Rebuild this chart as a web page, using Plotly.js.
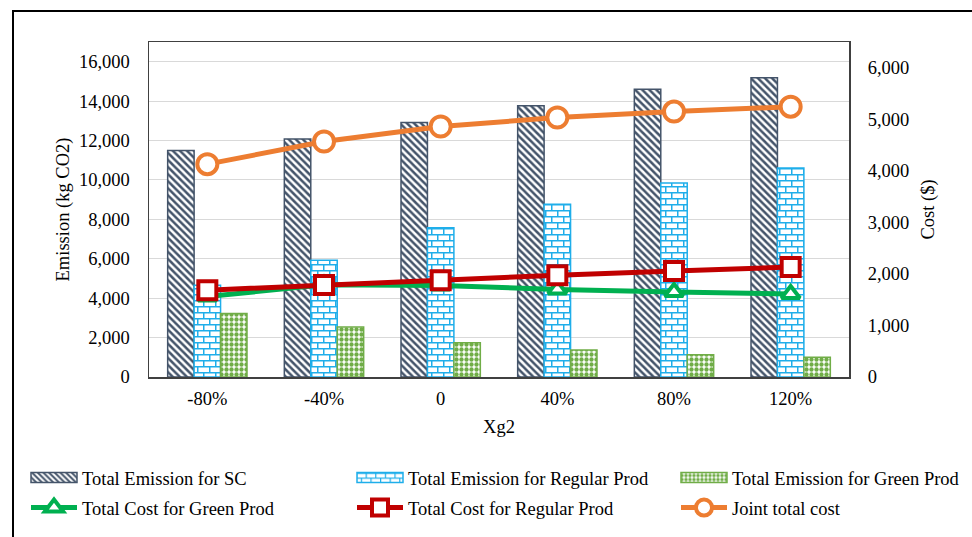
<!DOCTYPE html>
<html>
<head>
<meta charset="utf-8">
<script src="https://cdn.plot.ly/plotly-3.0.1.min.js"></script>
<style>
html,body{margin:0;padding:0;background:#fff;overflow:hidden;}
#wrap{position:relative;width:972px;height:537px;}
#chart{width:972px;height:537px;}
#frame{position:absolute;left:12px;top:10px;width:980px;height:560px;border:2px solid #000;pointer-events:none;box-sizing:border-box;}
</style>
</head>
<body>
<div id="wrap">
<div id="chart"></div>
<div id="frame"></div>
</div>
<script>
// ---- data ----
const categories = ['-80%', '-40%', '0', '40%', '80%', '120%'];
const emissionSC = [11500, 12080, 12920, 13770, 14600, 15190];
const emissionRegular = [4650, 5930, 7570, 8770, 9850, 10600];
const emissionGreen = [3220, 2540, 1740, 1370, 1130, 1000];
const costGreen = [1560, 1790, 1775, 1700, 1650, 1610];
const costRegular = [1685, 1785, 1875, 1975, 2055, 2135];
const costJoint = [4130, 4570, 4860, 5035, 5150, 5245];

const fontFam = 'Liberation Serif';
const FS = 18.5;

const traces = [
  {
    type: 'bar', name: 'Total Emission for SC', x: categories, y: emissionSC,
    legend: 'legend', legendgroup: 'a1',
    marker: {color: '#ffffff', line: {color: '#44546A', width: 1.5},
      pattern: {shape: '\\', fgcolor: '#44546A', bgcolor: '#ffffff', size: 5, solidity: 0.5}}
  },
  {
    type: 'bar', name: 'Total Emission for Regular Prod', x: categories, y: emissionRegular,
    legend: 'legend2', legendgroup: 'b1',
    marker: {color: '#ffffff', line: {color: '#1FAEEA', width: 1.5},
      pattern: {shape: '+', fgcolor: '#1FAEEA', bgcolor: '#ffffff', size: 8, solidity: 0.25}}
  },
  {
    type: 'bar', name: 'Total Emission for Green Prod', x: categories, y: emissionGreen,
    legend: 'legend3', legendgroup: 'c1',
    marker: {color: '#ffffff', line: {color: '#70AD47', width: 1.5},
      pattern: {shape: '.', fgcolor: '#70AD47', bgcolor: '#ffffff', size: 5, solidity: 0.6}}
  },
  {
    type: 'scatter', mode: 'lines+markers', name: 'Total Cost for Green Prod', x: categories, y: costGreen,
    yaxis: 'y2', legend: 'legend', legendgroup: 'a2', line: {color: '#00B050', width: 5},
    marker: {symbol: 'triangle-up', size: 16, color: '#ffffff', line: {color: '#00B050', width: 4}}
  },
  {
    type: 'scatter', mode: 'lines+markers', name: 'Total Cost for Regular Prod', x: categories, y: costRegular,
    yaxis: 'y2', legend: 'legend2', legendgroup: 'b2', line: {color: '#C00000', width: 5},
    marker: {symbol: 'square', size: 18, color: '#ffffff', line: {color: '#C00000', width: 4}}
  },
  {
    type: 'scatter', mode: 'lines+markers', name: 'Joint total cost', x: categories, y: costJoint,
    yaxis: 'y2', legend: 'legend3', legendgroup: 'c2', line: {color: '#ED7D31', width: 5},
    marker: {symbol: 'circle', size: 20, color: '#ffffff', line: {color: '#ED7D31', width: 4}}
  }
];

function legendAt(xpx) {
  return {
    orientation: 'v', x: (xpx - 149) / 700, xanchor: 'left', y: (377 - 459) / 335, yanchor: 'top',
    traceorder: 'grouped', tracegroupgap: 3, itemwidth: 46,
    font: {size: FS, color: '#000000'},
    bgcolor: 'rgba(0,0,0,0)', borderwidth: 0
  };
}

const layout = {
  width: 972, height: 537,
  margin: {l: 149, r: 123, t: 42, b: 160, autoexpand: false},
  paper_bgcolor: '#ffffff', plot_bgcolor: '#ffffff',
  font: {family: fontFam, size: FS, color: '#000000'},
  barmode: 'group', bargap: 0.32, bargroupgap: 0,
  showlegend: true,
  legend: legendAt(26),
  legend2: legendAt(352),
  legend3: legendAt(676),
  xaxis: {
    type: 'category', showgrid: false, ticks: 'outside', ticklen: 4, tickcolor: 'rgba(0,0,0,0)',
    showline: true, mirror: true, linecolor: '#404040', linewidth: 1.5, zeroline: false,
    title: {text: 'Xg2', standoff: 12, font: {size: FS}},
    tickfont: {size: FS}
  },
  yaxis: {
    range: [0, 17000], dtick: 2000, tickformat: ',d', showgrid: true,
    gridcolor: '#D9D9D9', gridwidth: 1, zeroline: false, showline: true, mirror: true,
    linecolor: '#404040', linewidth: 1.5, ticks: 'outside', ticklen: 14, tickcolor: 'rgba(0,0,0,0)',
    title: {text: 'Emission (kg CO2)', standoff: 4, font: {size: FS}},
    tickfont: {size: FS}
  },
  yaxis2: {
    overlaying: 'y', side: 'right', range: [0, 6500], dtick: 1000, tickformat: ',d',
    showgrid: false, zeroline: false, ticks: 'outside', ticklen: 14, tickcolor: 'rgba(0,0,0,0)',
    title: {text: 'Cost ($)', standoff: 12, font: {size: FS}},
    tickfont: {size: FS}
  }
};

Plotly.newPlot('chart', traces, layout, {displayModeBar: false, staticPlot: true}).then(function () {
  try {
    // brick pattern for the regular-product emission bars
    document.querySelectorAll('#chart pattern').forEach(function (p) {
      const path = p.querySelector('path');
      if (!path) return;
      const st = ((path.getAttribute('style') || '') + ' ' + (path.getAttribute('stroke') || '')).toLowerCase();
      if (st.indexOf('31, 174, 234') < 0 && st.indexOf('1faeea') < 0) return;
      p.setAttribute('width', 12);
      p.setAttribute('height', 12);
      p.setAttribute('patternUnits', 'userSpaceOnUse');
      const bg = p.querySelector('rect');
      if (bg) { bg.setAttribute('width', 12); bg.setAttribute('height', 12); }
      path.setAttribute('d', 'M0,0.75H12M0,6.75H12M0.75,0V6.75M6.75,6.75V12');
      path.style.strokeWidth = '1.5px';
      path.style.stroke = '#1FAEEA';
      path.style.fill = 'none';
    });
    // serif legend text
    document.querySelectorAll('#chart .legendtext').forEach(function (t) {
      t.style.fontFamily = '"Liberation Serif", serif';
    });
    // wide rectangular legend swatches for the bar series
    document.querySelectorAll('#chart .legendpoints path').forEach(function (pt) {
      const d = (pt.getAttribute('d') || '').replace(/\s/g, '');
      if (d === 'M6,6H-6V-6H6Z') pt.setAttribute('d', 'M23,5H-23V-5H23Z');
    });
  } catch (e) {}
});
</script>
</body>
</html>
